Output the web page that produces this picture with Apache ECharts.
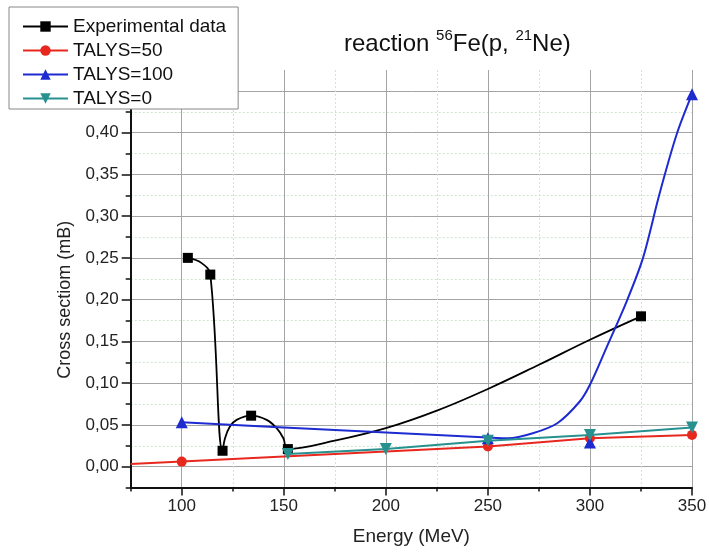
<!DOCTYPE html>
<html><head><meta charset="utf-8">
<script src="https://cdn.jsdelivr.net/npm/echarts@6/dist/echarts.min.js"></script>
<style>html,body{margin:0;padding:0;background:#fff}#c{width:709px;height:552px}</style>
</head><body><div id="c"></div>
<script>
// Experimental data (black squares)
const expX = [103, 114, 120, 134, 152, 325];
const expY = [0.25, 0.23, 0.019, 0.061, 0.021, 0.18];
const expCurveX = [103, 109.6, 114, 120, 121.2, 123.6, 126.9, 134, 141.6, 146.5, 149.8, 152, 175, 200, 225, 250, 275, 300, 325];
const expCurveY = [0.25, 0.244, 0.23, 0.019, 0.034, 0.048, 0.056, 0.061, 0.056, 0.046, 0.034, 0.021, 0.031, 0.046, 0.067, 0.093, 0.122, 0.152, 0.18];
// TALYS=50 (red circles); the first point sits at the axis edge without a marker
const t50X = [75, 100, 250, 300, 350];
const t50Y = [0.003, 0.006, 0.024, 0.034, 0.038];
// TALYS=100 (blue triangles) markers
const t100X = [100, 250, 300, 350];
const t100Y = [0.053, 0.034, 0.029, 0.446];
// TALYS=100 drawn curve
const t100CurveX = [100, 150, 200, 250, 260, 272, 284, 295, 300, 308, 318, 326, 334, 342.5, 350];
const t100CurveY = [0.053, 0.047, 0.041, 0.035, 0.034, 0.040, 0.052, 0.078, 0.098, 0.142, 0.198, 0.250, 0.326, 0.398, 0.446];
// TALYS=0 (teal down triangles)
const t0X = [152, 200, 250, 300, 350];
const t0Y = [0.015, 0.021, 0.031, 0.038, 0.047];
// Axis ticks
const xMajorTicks = [100, 150, 200, 250, 300, 350];
const yMajorTicks = [0, 0.05, 0.10, 0.15, 0.20, 0.25, 0.30, 0.35, 0.40, 0.45];
const yLabelTicks = [0, 0.05, 0.10, 0.15, 0.20, 0.25, 0.30, 0.35, 0.40];

const zip = (xs, ys) => xs.map((x, i) => [x, ys[i]]);
const FONT = 'Liberation Sans, Arial, sans-serif';
const chart = echarts.init(document.getElementById('c'));

const minorGrid = { show: true, showMinLine: false, showMaxLine: false, lineStyle: { color: '#cfe6cf', type: [2, 2], width: 1 } };
const majorGrid = { show: true, showMinLine: true, showMaxLine: true, lineStyle: { color: '#a4a4a4', type: 'solid', width: 1 } };

chart.setOption({
  animation: false,
  backgroundColor: '#fff',
  title: {
    text: '{a|reaction }{s|56}{a|Fe(p, }{s|21}{a|Ne)}',
    left: 344, top: 28, padding: 0,
    textStyle: {
      fontWeight: 'normal',
      rich: {
        a: { fontSize: 24, fontFamily: FONT, fontWeight: 'normal', color: '#111', lineHeight: 28, verticalAlign: 'bottom' },
        s: { fontSize: 15, fontFamily: FONT, fontWeight: 'normal', color: '#111', lineHeight: 15, verticalAlign: 'top' }
      }
    }
  },
  legend: {
    left: 9, top: 7, orient: 'vertical',
    itemWidth: 45, itemHeight: 13, itemGap: 5,
    padding: [10, 12, 1, 13],
    borderColor: '#888', borderWidth: 1, backgroundColor: '#fff',
    textStyle: { fontSize: 19, fontFamily: FONT, color: '#111' },
    data: ['Experimental data', 'TALYS=50', 'TALYS=100', 'TALYS=0'],
    z: 10
  },
  grid: { left: 130.7, right: 17, top: 70, bottom: 64.5, containLabel: false, outerBoundsMode: 'none' },
  xAxis: [
    {
      type: 'value', min: 75, max: 350, interval: 25, position: 'bottom',
      name: 'Energy (MeV)', nameLocation: 'middle', nameGap: 40,
      nameTextStyle: { fontSize: 19, fontFamily: FONT, color: '#222' },
      axisLine: { show: true, onZero: false, lineStyle: { color: '#111', width: 2 } },
      axisTick: { show: true, inside: false, length: 4, lineStyle: { color: '#111', width: 1.5 } },
      axisLabel: { show: false },
      splitLine: minorGrid
    },
    {
      type: 'value', min: 75, max: 350, interval: 25, position: 'bottom',
      axisLine: { show: false, onZero: false },
      axisTick: { show: true, inside: false, length: 8, customValues: xMajorTicks, lineStyle: { color: '#111', width: 1.5 } },
      axisLabel: { show: true, customValues: xMajorTicks, margin: 10, fontSize: 17, fontFamily: FONT, color: '#222' },
      splitLine: majorGrid
    }
  ],
  yAxis: [
    {
      type: 'value', min: -0.025, max: 0.475, interval: 0.025, position: 'left',
      name: 'Cross sectiom (mB)', nameLocation: 'middle', nameGap: 57,
      nameTextStyle: { fontSize: 18, fontFamily: FONT, color: '#222', padding: [0, 42, 0, 0] },
      axisLine: { show: true, onZero: false, lineStyle: { color: '#111', width: 2 } },
      axisTick: { show: true, inside: false, length: 5, lineStyle: { color: '#111', width: 1.5 } },
      axisLabel: { show: false },
      splitLine: minorGrid
    },
    {
      type: 'value', min: -0.025, max: 0.475, interval: 0.025, position: 'left',
      axisLine: { show: false, onZero: false },
      axisTick: { show: true, inside: false, length: 9, customValues: yMajorTicks, lineStyle: { color: '#111', width: 1.5 } },
      axisLabel: {
        show: true, customValues: yLabelTicks, margin: 12, fontSize: 17, fontFamily: FONT, color: '#222',
        formatter: v => v.toFixed(2).replace('.', ',')
      },
      splitLine: majorGrid
    }
  ],
  series: [
    {
      name: 'Experimental data', type: 'line', smooth: 0.4,
      data: zip(expCurveX, expCurveY),
      symbol: 'rect', showSymbol: false, symbolSize: 9, color: '#000',
      lineStyle: { color: '#000', width: 1.8 }, itemStyle: { color: '#000' }, z: 3
    },
    {
      name: 'Experimental data', type: 'scatter',
      data: zip(expX, expY),
      symbol: 'rect', symbolSize: 10, color: '#000',
      itemStyle: { color: '#000', opacity: 1 }, z: 3
    },
    {
      name: 'TALYS=50', type: 'line',
      data: zip(t50X, t50Y).map((p, i) => i === 0 ? { value: p, symbol: 'none' } : p),
      symbol: 'circle', symbolSize: 10, color: '#e8281e',
      lineStyle: { color: '#e8281e', width: 2 }, itemStyle: { color: '#e8281e' }, z: 4
    },
    {
      name: 'TALYS=100', type: 'line', smooth: 0.3,
      data: zip(t100CurveX, t100CurveY),
      symbol: 'triangle', showSymbol: false, symbolSize: 12, color: '#1d2bd0',
      lineStyle: { color: '#1d2bd0', width: 2 }, itemStyle: { color: '#1d2bd0' }, z: 5
    },
    {
      name: 'TALYS=100', type: 'scatter',
      data: zip(t100X, t100Y),
      symbol: 'triangle', symbolSize: 12, color: '#1d2bd0',
      itemStyle: { color: '#1d2bd0', opacity: 1 }, z: 5
    },
    {
      name: 'TALYS=0', type: 'line',
      data: zip(t0X, t0Y),
      symbol: 'triangle', symbolRotate: 180, symbolSize: 12, color: '#27918f',
      lineStyle: { color: '#27918f', width: 2 }, itemStyle: { color: '#27918f' }, z: 6
    }
  ]
});
</script></body></html>
